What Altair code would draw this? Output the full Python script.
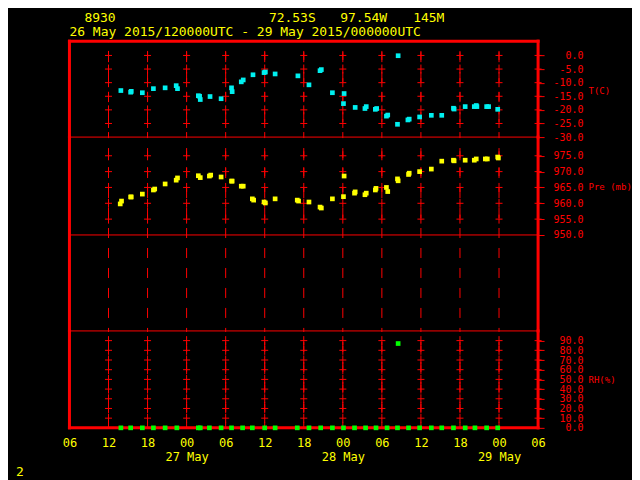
import itertools
import altair as alt
import pandas as pd

# ---- data (hours since 26 May 2015 00 UTC) ----
T_HOURS = [13.9, 15.4, 15.5, 17.2, 18.9, 20.7, 22.4, 22.6, 25.8, 26.0, 26.1, 27.6, 29.3,
           30.9, 31.0, 32.4, 32.7, 34.2, 35.9, 36.1, 37.6, 41.1, 42.8, 44.5, 44.7, 46.4,
           48.1, 48.2, 49.9, 51.4, 51.6, 53.0, 53.2, 54.7, 54.9, 56.4, 56.5, 58.0, 58.2,
           59.8, 61.6, 63.2, 65.0, 65.1, 66.8, 68.2, 68.5, 68.6, 70.1, 70.4, 71.8]
T_VALUES = [-12.9, -13.5, -13.2, -13.7, -12.2, -11.9, -11.1, -12.2, -14.8, -15.0, -16.2, -15.1, -15.9,
            -11.9, -13.3, -9.7, -9.0, -7.1, -6.3, -6.1, -6.8, -7.5, -10.8, -5.6, -5.2, -13.7,
            -17.7, -14.0, -19.1, -19.5, -18.8, -19.8, -19.5, -22.3, -21.9, -25.3, -0.1, -23.7, -23.4,
            -22.6, -22.0, -22.0, -19.4, -19.7, -18.8, -18.8, -18.4, -18.8, -18.8, -18.8, -19.8]

P_HOURS = [13.8, 14.0, 15.4, 15.5, 17.2, 18.9, 19.1, 20.7, 22.4, 22.6, 25.8, 26.1, 27.5, 27.7,
           29.3, 30.9, 31.0, 32.4, 32.7, 34.1, 34.3, 35.9, 36.1, 37.6, 41.0, 41.2, 42.8, 44.5,
           44.7, 46.4, 48.1, 48.2, 49.8, 49.9, 51.4, 51.6, 53.0, 53.1, 54.7, 54.9, 56.4, 56.5,
           58.1, 58.2, 59.8, 61.6, 63.2, 65.0, 65.1, 66.8, 68.2, 68.5, 69.9, 70.2, 71.8, 71.9]
P_VALUES = [959.8, 960.7, 962.0, 962.0, 962.9, 964.2, 964.5, 966.1, 967.3, 968.0, 968.7, 968.1, 968.6, 968.9,
            968.3, 967.0, 967.0, 965.4, 965.4, 961.4, 961.0, 960.4, 960.1, 961.4, 961.0, 960.7, 960.4, 958.8,
            958.5, 961.4, 962.1, 968.6, 963.2, 963.6, 962.7, 963.2, 964.2, 964.7, 965.0, 963.7, 967.7, 967.1,
            969.1, 969.5, 970.0, 970.8, 973.3, 973.6, 973.4, 973.6, 973.6, 974.0, 974.0, 974.0, 974.6, 974.3]

RH_HOURS = [13.9, 15.4, 17.2, 18.9, 20.7, 22.5, 25.8, 26.1, 27.5, 29.3, 30.9, 32.6, 34.1, 36.0,
            37.6, 41.0, 42.8, 44.6, 46.4, 48.1, 49.8, 51.5, 53.1, 54.8, 56.4, 56.5, 58.1, 59.8,
            61.6, 63.2, 65.0, 66.8, 68.3, 70.1, 71.8]
RH_VALUES = [0, 0, 0, 0, 0, 0, 0, 0, 0, 0, 0, 0, 0, 0,
             0, 0, 0, 0, 0, 0, 0, 0, 0, 0, 0, 87, 0, 0,
             0, 0, 0, 0, 0, 0, 0]

X_TICKS = [6, 12, 18, 24, 30, 36, 42, 48, 54, 60, 66, 72, 78]
GRID_HOURS = [12, 18, 24, 30, 36, 42, 48, 54, 60, 66, 72]
CROSS_HOURS = [12, 18, 24, 30, 36, 42, 48, 54, 60, 66, 72, 78]

T_TICKS = [0, -5, -10, -15, -20, -25, -30]
T_CROSS = [0, -5, -10, -15, -20, -25]
P_TICKS = [950, 955, 960, 965, 970, 975]
P_CROSS = [955, 960, 965, 970, 975]
RH_TICKS = [0, 10, 20, 30, 40, 50, 60, 70, 80, 90]
RH_CROSS = [10, 20, 30, 40, 50, 60, 70, 80, 90]

HEADER1 = ["8930", "72.53S", "97.54W", "145M"]
HEADER2 = "26 May 2015/120000UTC - 29 May 2015/000000UTC"
FOOTER = "2"

RED = "#ff0000"
YEL = "#ffff00"
CYAN = "#00f0f0"
GREEN = "#00ff00"
FONT = "DejaVu Sans Mono"

W = 469
X_DOMAIN = [6, 78]
CROSS_PATH = "M-0.78,0L0.78,0M0,-1L0,1"

Y_LABEL = "datum.value < 0 ? '-' + format(-datum.value, '.1f') : format(datum.value, '.1f')"
X_LABEL = ("(datum.value % 24 < 10 ? '0' : '') + (datum.value % 24) == '00' ? "
           "['00', (26 + floor(datum.value / 24)) + ' May'] : "
           "(datum.value % 24 < 10 ? '0' : '') + (datum.value % 24)")

PAGE_CSS = ("html, body { background: #000; } "
            "#vis.vega-embed svg { flex-shrink: 0; max-width: none; }")


def dummy():
    return alt.Chart(pd.DataFrame({"d": [0]}))


def panel(height, domain, ticks, crosses, title, hours, values, color,
          thick_lines, thin_lines, x_axis=None, texts=()):
    if x_axis is None:
        xenc = alt.X("h:Q", scale=alt.Scale(domain=X_DOMAIN, nice=False, zero=False), axis=None)
    else:
        xenc = alt.X("h:Q", scale=alt.Scale(domain=X_DOMAIN, nice=False, zero=False), axis=x_axis)
    yaxis = alt.Axis(
        orient="right", values=ticks, labelExpr=Y_LABEL, labelColor=RED, labelFont=FONT,
        labelFontSize=10, labelAlign="right", labelBaseline="middle", labelPadding=39,
        labelOverlap=False, labelFlush=False, tickColor=RED, tickSize=6, tickWidth=1,
        domain=False, grid=False, title=title, titleColor=RED, titleFont=FONT,
        titleFontSize=9, titleFontWeight="normal", titleAngle=0, titleAlign="left",
        titleBaseline="middle", titleX=50, titleY=49,
    )
    yenc = alt.Y("v:Q", scale=alt.Scale(domain=domain, nice=False, zero=False), axis=yaxis)

    vr = alt.Chart(pd.DataFrame({"h": GRID_HOURS})).mark_rule(
        color=RED, strokeWidth=1, strokeDash=[10, 10], strokeDashOffset=9
    ).encode(x=xenc, y=alt.value(0), y2=alt.value(height))

    cross_df = pd.DataFrame(list(itertools.product(CROSS_HOURS, crosses)), columns=["h", "v"])
    cr = alt.Chart(cross_df).mark_point(
        shape=CROSS_PATH, size=81, filled=False, color=RED, strokeWidth=1, opacity=1
    ).encode(x=xenc, y=yenc)

    frame_v = alt.Chart(pd.DataFrame({"h": X_DOMAIN})).mark_rule(
        color=RED, strokeWidth=3, strokeCap="square"
    ).encode(x=xenc)

    layers = [vr, cr]
    if thin_lines:
        layers.append(alt.Chart(pd.DataFrame({"v": thin_lines})).mark_rule(
            color=RED, strokeWidth=1).encode(y=yenc))
    if thick_lines:
        layers.append(alt.Chart(pd.DataFrame({"v": thick_lines})).mark_rule(
            color=RED, strokeWidth=3, strokeCap="square").encode(y=yenc))
    layers.append(frame_v)

    pts = alt.Chart(pd.DataFrame({"h": hours, "v": values})).mark_square(
        size=22, color=color, opacity=1
    ).encode(x=xenc, y=yenc)
    layers.append(pts)

    for (txt, tx, ty) in texts:
        layers.append(dummy().mark_text(
            text=txt, align="left", baseline="top", font=FONT, fontSize=13, color=YEL
        ).encode(x=alt.value(tx), y=alt.value(ty)))

    return alt.layer(*layers).properties(width=W, height=height)


header_texts = [
    (HEADER1[0], 15, -29),
    (HEADER1[1], 199.6, -29),
    (HEADER1[2], 271, -29),
    (HEADER1[3], 344, -29),
    (HEADER2, 0, -15.1),
]

x_axis = alt.Axis(
    values=X_TICKS, labelExpr=X_LABEL, labelColor=YEL, labelFont=FONT, labelFontSize=12,
    labelLineHeight=14, labelPadding=10, labelFlush=False, labelOverlap=False,
    ticks=False, tickSize=0, domain=False, grid=False, title=None,
)

p_t = panel(96, [-30, 5.25], T_TICKS, T_CROSS, "T(C)", T_HOURS, T_VALUES, CYAN,
            thick_lines=[5.25], thin_lines=[-30], texts=header_texts)
p_p = panel(194, [919.7, 980.9], P_TICKS, P_CROSS, "Pre (mb)", P_HOURS, P_VALUES, YEL,
            thick_lines=[], thin_lines=[950])
p_rh = panel(97, [0, 100], RH_TICKS, RH_CROSS, "RH(%)", RH_HOURS, RH_VALUES, GREEN,
             thick_lines=[0], thin_lines=[100], x_axis=x_axis,
             texts=[(FOOTER, -53.5, 135.5)])

chart = alt.vconcat(p_t, p_p, p_rh, spacing=0, bounds="flush").properties(
    padding={"left": 7.5, "top": 4, "right": 0, "bottom": 0},
    background="black",
    usermeta={"embedOptions": {"defaultStyle": PAGE_CSS}},
).configure_view(stroke=None)

chart.save("out.html", embed_options={"renderer": "svg", "actions": False})
